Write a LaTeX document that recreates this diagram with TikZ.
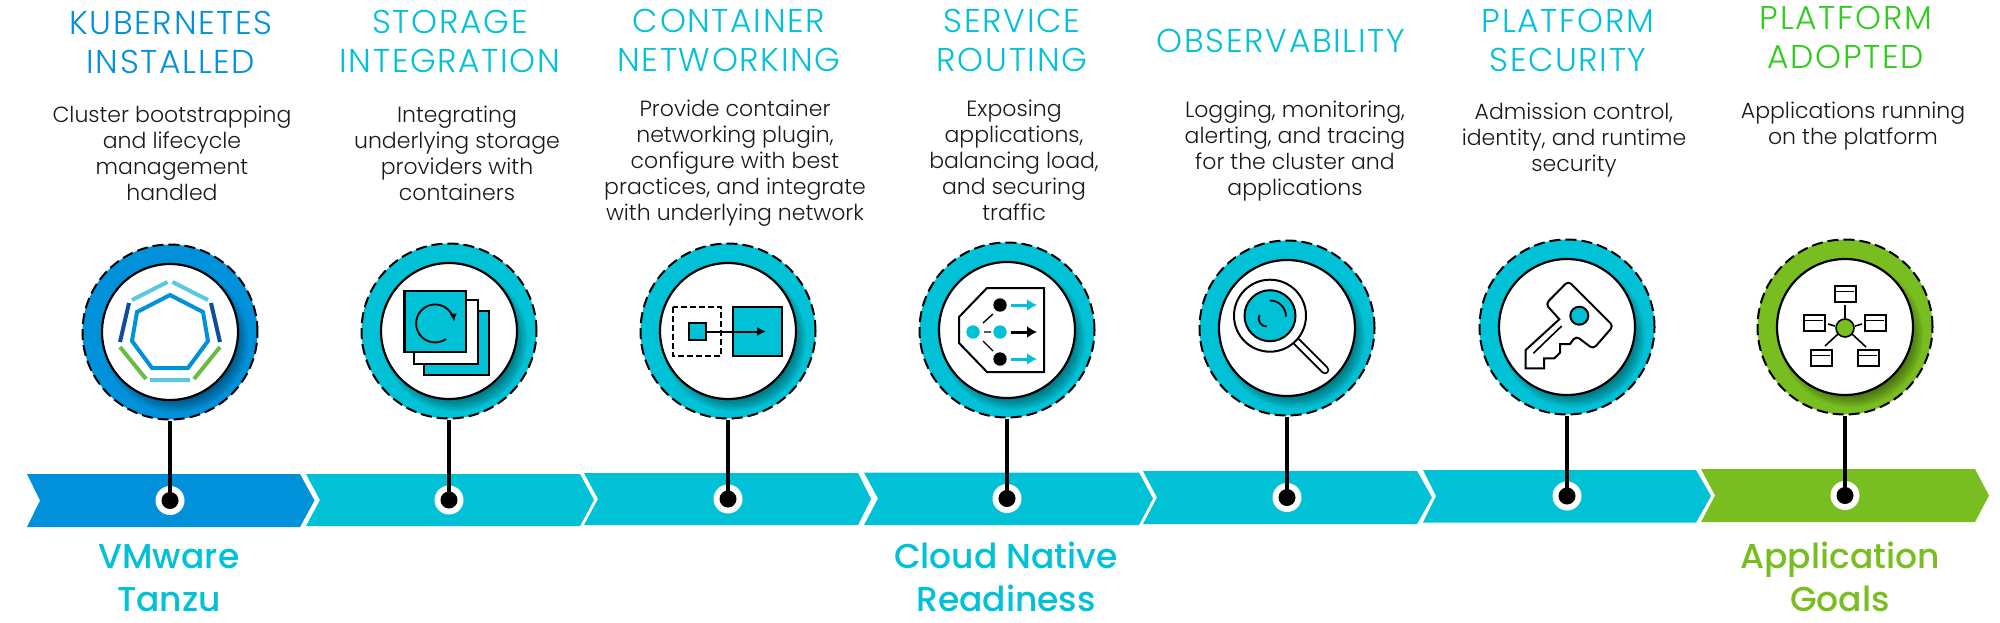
\documentclass[tikz,border=0pt]{standalone}
\usepackage{fontspec}
\setmainfont{Poppins Light}
\newfontfamily\medf{Poppins Medium}
\usetikzlibrary{arrows.meta}
\definecolor{vblue}{HTML}{0091DA}
\definecolor{vteal}{HTML}{00C1D5}
\definecolor{vgreen}{HTML}{78BE20}
\definecolor{vtgreen}{HTML}{2FCC1C}
\definecolor{klight}{HTML}{5BC8E0}
\definecolor{kdark}{HTML}{0F4C9C}
\definecolor{kgreen}{HTML}{6CBB45}
\tikzset{
  x=1pt,y=-1pt,
  ribbon/.style={fill=#1,draw=none},
  ttl/.style={text=#1,anchor=base,align=center,inner sep=0pt,font=\fontsize{33}{38.5}\selectfont\addfontfeature{LetterSpace=5}},
  bdy/.style={text=black!90,anchor=base,align=center,inner sep=0pt,font=\fontsize{22}{26}\selectfont},
  goal/.style={text=#1,anchor=base,align=center,inner sep=0pt,font=\fontsize{34.5}{43}\selectfont\medf},
  outer/.style={circle,minimum size=175pt,inner sep=0pt,fill=#1,draw=black,line width=2pt,dash pattern=on 11pt off 5pt},
  inner/.style={circle,minimum size=136pt,inner sep=0pt,fill=white,draw=black,line width=2.2pt},
  wring/.style={circle,minimum size=29pt,inner sep=0pt,fill=white},
  bdot/.style={circle,minimum size=17pt,inner sep=0pt,fill=black},
  stem/.style={draw=black,line width=4.6pt},
  ic/.style={draw=black,line width=2pt},
  win/.style={draw=black,line width=1.5pt,fill=white},
}
% disc: name, x, y, colour
\newcommand{\disc}[4]{%
  \node[outer=#4] (c#1) at (#2,#3) {};
  \begin{scope}
    \clip (#2,#3) circle[radius=86pt];
    \foreach \r in {58,60,...,72} {\fill[black,opacity=.065] (#2+6,#3+8) circle[radius=\r pt];}
  \end{scope}
  \node[inner] (i#1) at (#2,#3) {};
}
\newcommand{\pin}[3]{%
  \node[wring] (r#1) at (#2,#3) {};
  \draw[stem] (c#1.south) -- (r#1.center);
  \node[bdot] (d#1) at (#2,#3) {};
}
\begin{document}
\begin{tikzpicture}
\useasboundingbox (0,0) rectangle (2000,622);
% ribbons
\fill[ribbon=vblue] (27,474)--(300,474)--(314.5,500.5)--(300,527)--(27,527)--(40,500.5)--cycle;
\fill[ribbon=vteal] (306,474)--(580,474)--(594,500)--(580,526)--(306,526)--(320,500)--cycle;
\fill[ribbon=vteal] (584,473)--(858,473)--(871,499)--(858,525)--(584,525)--(598,499)--cycle;
\fill[ribbon=vteal] (864,472.5)--(1139,472.5)--(1153,498.5)--(1139,525)--(864,525)--(878,498.5)--cycle;
\fill[ribbon=vteal] (1143,471)--(1417,471)--(1432,497.5)--(1417,524)--(1143,524)--(1157,497.5)--cycle;
\fill[ribbon=vteal] (1423,470)--(1696,470)--(1711,496)--(1696,522.5)--(1423,522.5)--(1436,496)--cycle;
\fill[ribbon=vgreen] (1701,469)--(1975,469)--(1989,495.5)--(1975,522)--(1701,522)--(1715,495.5)--cycle;
% discs
\disc{1}{170}{332}{vblue}
\disc{2}{449}{331}{vteal}
\disc{3}{728}{331}{vteal}
\disc{4}{1007}{330}{vteal}
\disc{5}{1287}{328}{vteal}
\disc{6}{1567}{327}{vteal}
\disc{7}{1845}{327}{vgreen}
% pins
\pin{1}{170}{500.5}
\pin{2}{449}{500}
\pin{3}{728}{499}
\pin{4}{1007}{498.5}
\pin{5}{1287}{497.5}
\pin{6}{1567}{496}
\pin{7}{1845}{495.5}
% icon 1
\begin{scope}[shift={(170,332)}]
\draw[vblue,line width=4pt,miter limit=10] (0,-37)--(33,-20)--(38,9)--(18,36)--(-18,36)--(-38,9)--(-33,-20)--cycle;
\draw[klight,line width=4pt] (-2.5,-50)--(-38,-32) (2.5,-50)--(38,-32) (-20,48)--(20,48);
\draw[kdark,line width=4pt] (-41,-29)--(-50,10) (41,-29)--(50,10);
\draw[kgreen,line width=4pt] (-50,15)--(-24,47) (50,15)--(24,47);
\end{scope}
% icon 2
\begin{scope}[shift={(449,331)}]
\draw[ic,fill=vteal] (-25,-20) rectangle (40,44);
\draw[ic,fill=white] (-35.5,-31) rectangle (29,33);
\draw[ic,fill=vteal,line width=2.2pt] (-44.5,-40) rectangle (17,21);
\draw[black,line width=1.8pt,-{Latex[length=8pt,width=7pt]}] (-3,8) arc[start angle=-55,end angle=-355,radius=19pt];
\end{scope}
% icon 3
\begin{scope}[shift={(728,331)}]
\draw[ic,dash pattern=on 6pt off 3pt] (-55,-24) rectangle (-7,25);
\draw[ic,fill=vteal] (5,-24) rectangle (54,25);
\draw[ic,fill=vteal,line width=2.4pt] (-39,-8) rectangle (-22,9);
\draw[black,line width=2pt,-{Latex[length=9pt,width=9pt]}] (-22,0.5)--(38,0.5);
\end{scope}
% icon 4
\begin{scope}[shift={(1007,330)}]
\draw[ic] (-20,-42)--(37,-42)--(37,42)--(-20,42)--(-48,13)--(-48,-13)--cycle;
\fill[black] (-7,-25) circle[radius=6.7pt] (-7,29) circle[radius=6.7pt];
\fill[vteal] (-34,2) circle[radius=6.7pt] (-7,2) circle[radius=6.7pt];
\draw[black,line width=1.4pt] (-24,-7)--(-14,-16) (-23,2)--(-16,2) (-24,11)--(-14,21);
\draw[vteal,line width=3pt,-{Latex[length=10pt,width=12pt]}] (4,-25)--(30,-25);
\draw[black,line width=3pt,-{Latex[length=10pt,width=12pt]}] (4,2)--(30,2);
\draw[vteal,line width=3pt,-{Latex[length=10pt,width=12pt]}] (4,29)--(30,29);
\end{scope}
% icon 5
\begin{scope}[shift={(1287,328)}]
\draw[black,line width=8.5pt,line cap=round] (9.7,13.7)--(38,42);
\draw[white,line width=4.7pt,line cap=round] (9.7,13.7)--(38,42);
\draw[ic,fill=white] (-17,-12.3) circle[radius=36pt];
\draw[ic,fill=vteal] (-17,-12.3) circle[radius=25.5pt];
\draw[black,line width=1.8pt] (-17,-27.5) arc[start angle=90,end angle=0,radius=16pt];
\draw[black,line width=1.8pt] (-27.6,-12.9) arc[start angle=155,end angle=270,radius=8pt];
\end{scope}
% icon 6
\begin{scope}[shift={(1567,327)}]
\draw[ic,fill=white] (-7.7,-7.7)[rounded corners=4pt]--(-21.3,-23)--(1.3,-46)--(46.3,-1)--(26.3,22)--(9,9)[sharp corners]--(3,17)--(-7,17)--(-7,25.7)--(-12.7,31.3)--(-23,31.3)--(-23,41.3)--(-41.3,41.3)--(-41.3,23)--cycle;
\draw[black,line width=1.6pt] (-33.7,26.3)--(-5.3,-1);
\draw[ic,fill=vteal] (12.3,-11.3) circle[radius=9pt];
\end{scope}
% icon 7
\begin{scope}[shift={(1845,327)}]
\draw[black,line width=1.6pt] (0,-22)--(0,-9) (-17,-3)--(-10,-1) (17,-3)--(10,-1) (-20,19)--(-7,7) (21,20)--(7,7);
\draw[ic,fill=vgreen,line width=1.6pt] (0,1) circle[radius=9pt];
\foreach \a/\b in {-10/-41,-41/-12,20/-12,-34/23,13/23} {
  \draw[win] (\a,\b) rectangle ++(21,16);
  \draw[black,line width=.8pt] (\a+1,\b+5)--(\a+19,\b+5);
}
\end{scope}
% titles (y = baseline of the last line)
\node[ttl=vblue] (t1) at (171,73) {KUBERNETES\\INSTALLED};
\node[ttl=vteal] (t2) at (450,72) {STORAGE\\INTEGRATION};
\node[ttl=vteal] (t3) at (729,71) {CONTAINER\\NETWORKING};
\node[ttl=vteal] (t4) at (1012,71) {SERVICE\\ROUTING};
\node[ttl=vteal] (t5) at (1281,52) {OBSERVABILITY};
\node[ttl=vteal] (t6) at (1568,71) {PLATFORM\\SECURITY};
\node[ttl=vtgreen] (t7) at (1846,68) {PLATFORM\\ADOPTED};
% bodies
\node[bdy] (b1) at (172,200.7) {Cluster bootstrapping\\and lifecycle\\management\\handled};
\node[bdy] (b2) at (457,200.7) {Integrating\\underlying storage\\providers with\\containers};
\node[bdy] (b3) at (735,220.5) {Provide container\\networking plugin,\\configure with best\\practices, and integrate\\with underlying network};
\node[bdy] (b4) at (1014,220) {Exposing\\applications,\\balancing load,\\and securing\\traffic};
\node[bdy] (b5) at (1295,195) {Logging, monitoring,\\alerting, and tracing\\for the cluster and\\applications};
\node[bdy] (b6) at (1574,171.5) {Admission control,\\identity, and runtime\\security};
\node[bdy] (b7) at (1853,144.5) {Applications running\\on the platform};
% goals
\node[goal=vteal] (g1) at (169,611) {VMware\\Tanzu};
\node[goal=vteal] (g2) at (1006,611) {Cloud Native\\Readiness};
\node[goal=vgreen] (g3) at (1840,611) {Application\\Goals};
\end{tikzpicture}
\end{document}
